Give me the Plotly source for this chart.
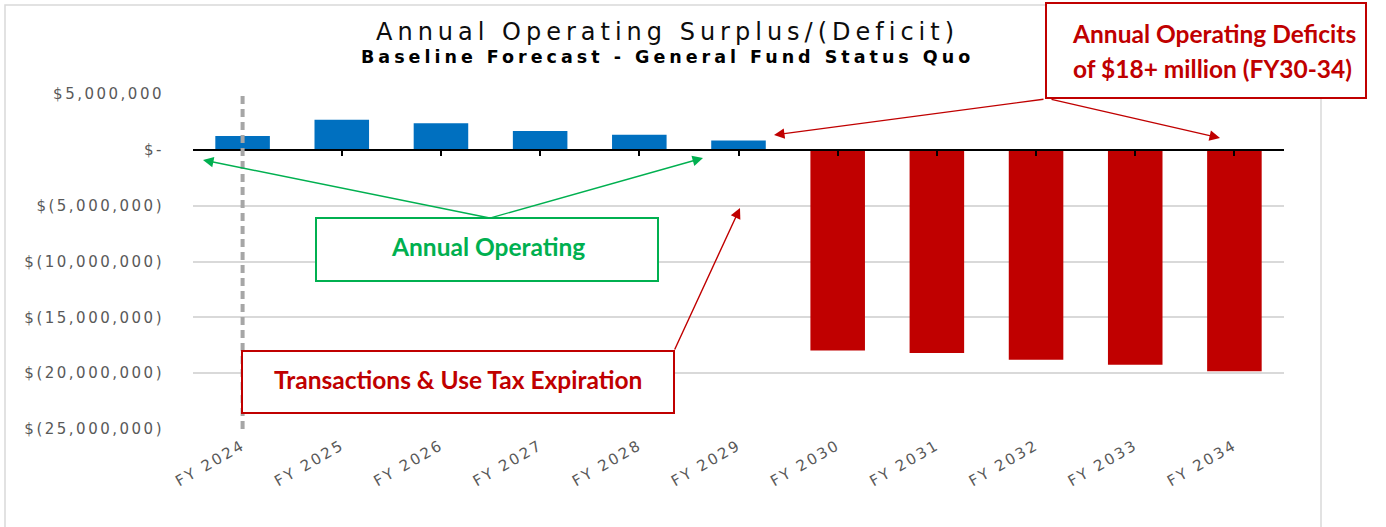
import plotly.graph_objects as go

# ---- data -------------------------------------------------------------
categories = ["FY 2024", "FY 2025", "FY 2026", "FY 2027", "FY 2028", "FY 2029",
              "FY 2030", "FY 2031", "FY 2032", "FY 2033", "FY 2034"]
net_result = [1_250_000, 2_690_000, 2_390_000, 1_680_000, 1_340_000, 830_000,
              -17_980_000, -18_200_000, -18_800_000, -19_240_000, -19_830_000]
y_tick_vals = [5_000_000, 0, -5_000_000, -10_000_000, -15_000_000, -20_000_000, -25_000_000]
y_tick_text = ["$5,000,000", "$-", "$(5,000,000)", "$(10,000,000)",
               "$(15,000,000)", "$(20,000,000)", "$(25,000,000)"]

# ---- styling ----------------------------------------------------------
W, H = 1386, 527
L, R, T, B = 193, 1284, 94, 429          # plot area in pixels
BLUE, RED, GREEN = "#0070C0", "#C00000", "#00B050"
GRAY_TXT, GRID = "#595959", "#D9D9D9"


def px(x):
    return (x - L) / (R - L)


def py(y):
    return (B - y) / (B - T)


def spaced(text, sp):
    return f'<span style="letter-spacing:{sp}px">{text}</span>'


bar_colors = [BLUE if v >= 0 else RED for v in net_result]

fig = go.Figure()
fig.add_trace(go.Bar(x=categories, y=net_result, marker=dict(color=bar_colors, line=dict(width=0)),
                     width=0.55, hoverinfo="x+y", showlegend=False))
# carrier for the category axis drawn along the zero line
fig.add_trace(go.Scatter(x=categories, y=net_result, xaxis="x2", mode="markers",
                         marker=dict(opacity=0), hoverinfo="skip", showlegend=False))

fig.update_layout(
    width=W, height=H,
    margin=dict(l=L, r=W - R, t=T, b=H - B, pad=0),
    paper_bgcolor="white", plot_bgcolor="white",
    bargap=0.45,
    xaxis=dict(type="category", tickvals=categories,
               ticktext=[spaced(c, 2.4) for c in categories],
               tickangle=-30, tickfont=dict(family="DejaVu Sans", size=15, color=GRAY_TXT),
               showgrid=False, showline=False, ticks="", ticklabelstandoff=4,
               range=[-0.5, 10.5]),
    xaxis2=dict(type="category", overlaying="x", anchor="free", position=25 / 30,
                range=[-0.5, 10.5], showline=True, linecolor="black", linewidth=1.5,
                ticks="outside", ticklen=5, tickwidth=1.5, tickcolor="black",
                showticklabels=False, showgrid=False, zeroline=False),
    yaxis=dict(range=[-25_000_000, 5_000_000], tickvals=y_tick_vals,
               ticktext=[spaced(t, 2.5) for t in y_tick_text],
               tickfont=dict(family="DejaVu Sans", size=15, color=GRAY_TXT),
               showgrid=True, gridcolor=GRID, gridwidth=1.5, zeroline=False,
               showline=False, ticks="", ticklabelstandoff=28),
)

shapes = [
    # chart frame
    dict(type="rect", xref="paper", yref="paper", x0=px(5), x1=px(1321), y0=py(560), y1=py(5),
         line=dict(color=GRID, width=1.5), layer="below"),
    # current-year marker
    dict(type="line", xref="x", yref="paper", x0=categories[0], x1=categories[0], y0=0, y1=1,
         line=dict(color="#A6A6A6", width=4, dash="8px,5px"), layer="above"),
    # callout boxes
    dict(type="rect", xref="paper", yref="paper", x0=px(1046), x1=px(1366), y0=py(98), y1=py(3),
         line=dict(color=RED, width=2), fillcolor="white", layer="above"),
    dict(type="rect", xref="paper", yref="paper", x0=px(316), x1=px(658), y0=py(281), y1=py(218),
         line=dict(color=GREEN, width=2), fillcolor="white", layer="above"),
    dict(type="rect", xref="paper", yref="paper", x0=px(242), x1=px(674), y0=py(413), y1=py(351),
         line=dict(color=RED, width=2), fillcolor="white", layer="above"),
]
fig.update_layout(shapes=shapes)

annotations = []


def label(text, x, y, size, color, family, bold=False):
    annotations.append(dict(text=f"<b>{text}</b>" if bold else text, x=px(x), y=py(y),
                            xref="paper", yref="paper", xanchor="center", yanchor="middle",
                            showarrow=False, font=dict(family=family, size=size, color=color)))


def arrow(tail, tip, color):
    annotations.append(dict(text="", x=px(tip[0]), y=py(tip[1]), xref="paper", yref="paper",
                            ax=tail[0] - tip[0], ay=tail[1] - tip[1], axref="pixel", ayref="pixel",
                            showarrow=True, arrowhead=2, arrowsize=1.5, arrowwidth=1.4,
                            arrowcolor=color, standoff=0, startstandoff=0))


label(spaced("Annual Operating Surplus/(Deficit)", 5), 667, 32, 24, "#0D0D0D", "DejaVu Sans")
label(spaced("Baseline Forecast - General Fund Status Quo", 4), 667, 57, 17.5, "#000000",
      "DejaVu Sans", bold=True)

label("Annual Operating Deficits", 1214, 33, 24.5, RED, "Lato", bold=True)
label("of $18+ million (FY30-34)", 1212, 68, 24.5, RED, "Lato", bold=True)
label("Annual Operating", 488, 246, 24.5, GREEN, "Lato", bold=True)
label("Transactions & Use Tax Expiration", 458, 379, 24.5, RED, "Lato", bold=True)

arrow((490, 218), (203, 160), GREEN)
arrow((490, 218), (703, 158), GREEN)
arrow((1045, 99), (774, 135), RED)
arrow((1050, 99), (1220, 138), RED)
arrow((674, 351), (740, 208), RED)

fig.update_layout(annotations=annotations)

fig.write_html("out.html")
